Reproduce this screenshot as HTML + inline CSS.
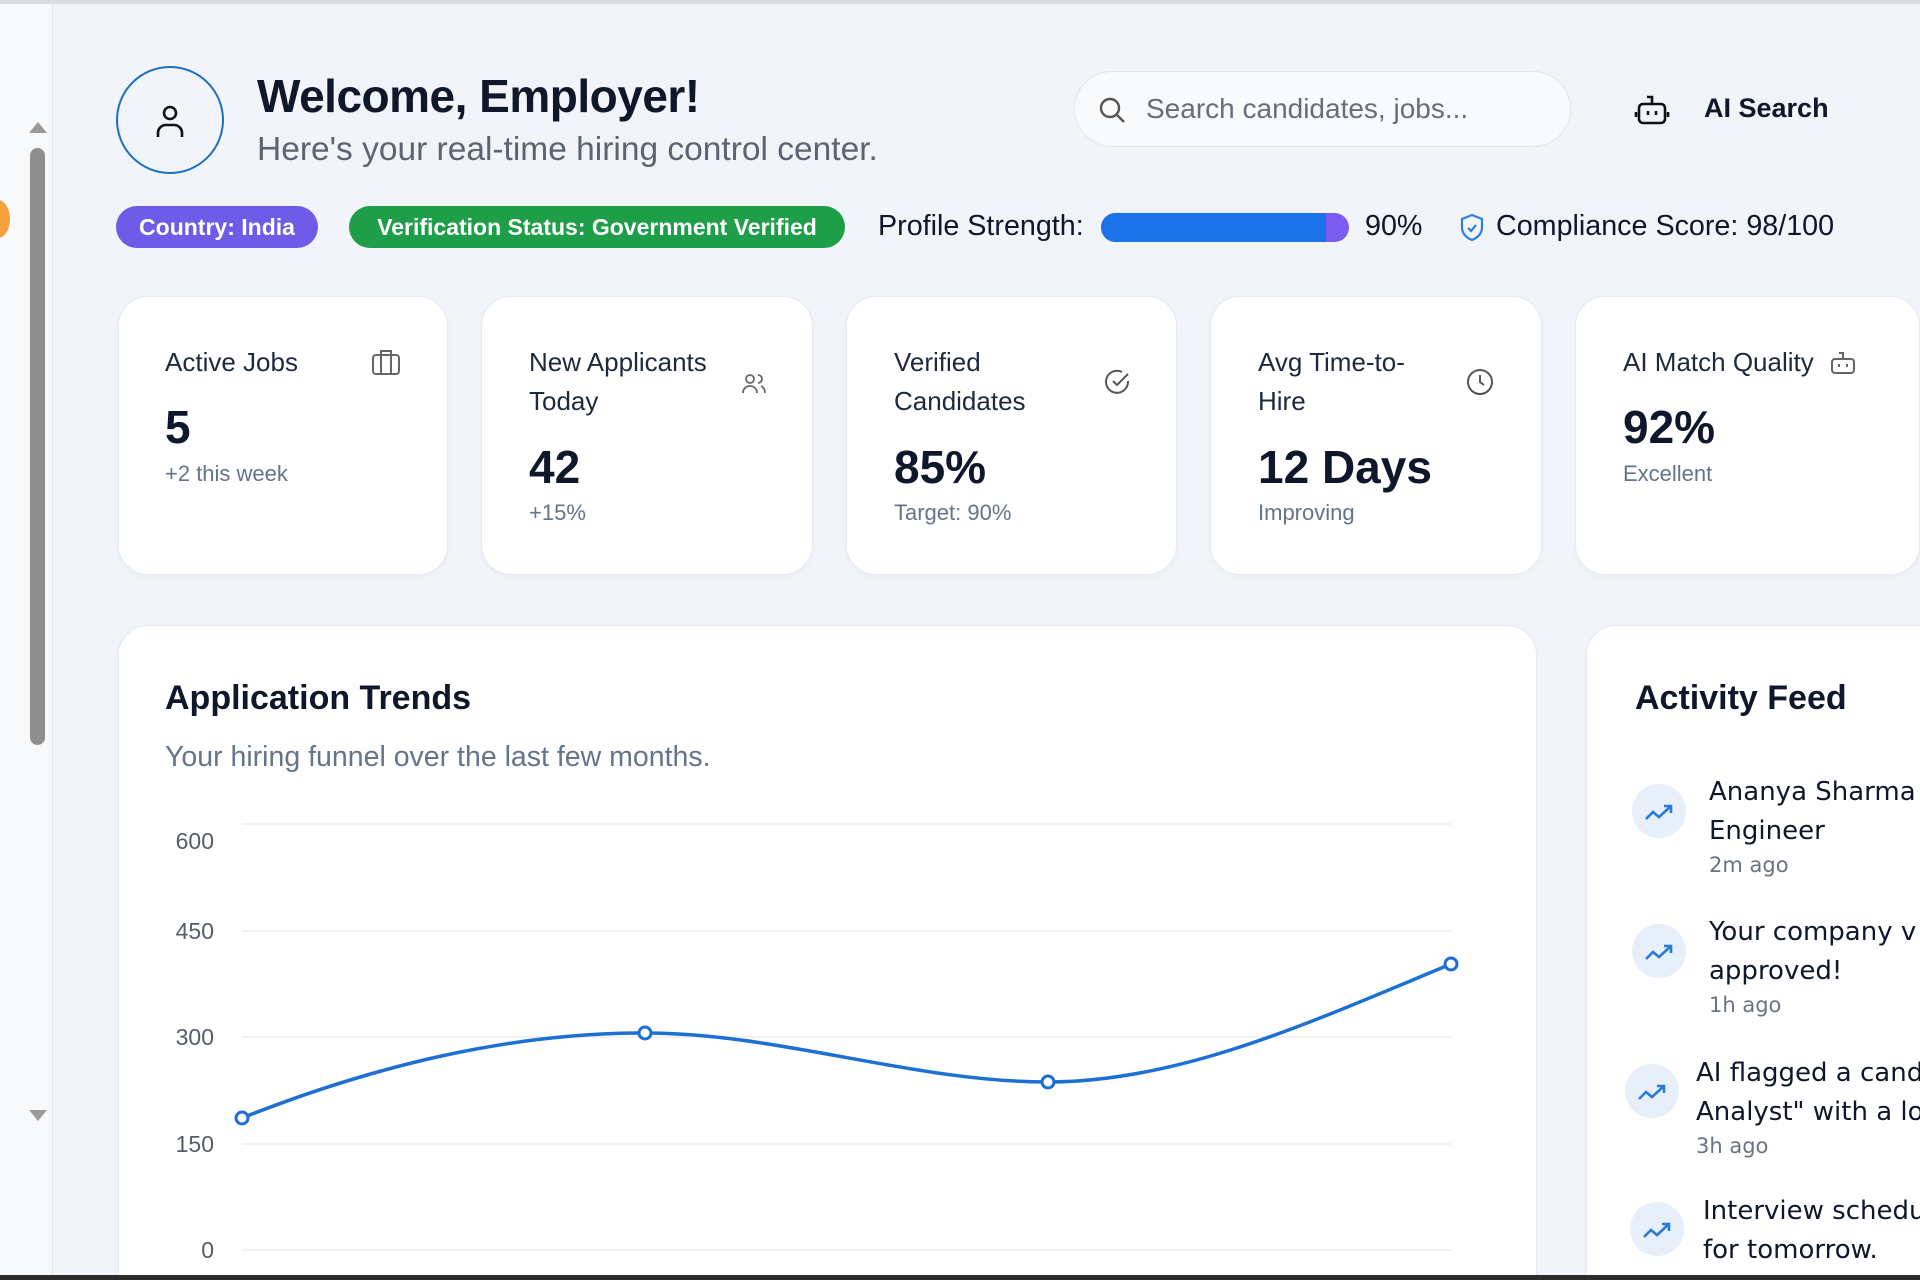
<!DOCTYPE html>
<html style="overflow:hidden;width:1920px;height:1280px"><head><meta charset="utf-8"><style>
*{margin:0;padding:0;box-sizing:border-box}
body{width:1920px;height:1280px;overflow:hidden;background:#f1f4f8;font-family:"Liberation Sans",sans-serif;color:#0f172a;position:relative}
.a{position:absolute;white-space:nowrap}
.card{position:absolute;background:#fff;border:1px solid #e6eaf0;border-radius:30px;box-shadow:0 2px 6px rgba(0,0,0,.03)}
.ct{font-size:26px;color:#1e293b;line-height:39px}
.cv{font-size:46px;font-weight:bold;color:#0f172a}
.cs{font-size:22px;color:#64748b}
.badge{position:absolute;height:42px;border-radius:21px;color:#fff;font-weight:bold;font-size:23px;line-height:42px;text-align:center}
.feed{font-family:"DejaVu Sans",sans-serif;font-size:26px;color:#0f172a;line-height:39px}
.tm{font-family:"DejaVu Sans",sans-serif;font-size:21px;color:#6b7280}
.ic{position:absolute;width:54px;height:54px;border-radius:50%;background:#e6effa}
</style></head><body>
<div class="a" style="left:0;top:0;width:1920px;height:4px;background:#d9dce1"></div>
<div class="a" style="left:0;top:4px;width:53px;height:1272px;background:#f8f9fb;border-right:1px solid #e5e7eb"></div>
<div class="a" style="left:-14px;top:200px;width:24px;height:38px;border-radius:50%;background:#f6a23c"></div>
<div class="a" style="left:29px;top:122px;width:0;height:0;border-left:9px solid transparent;border-right:9px solid transparent;border-bottom:11px solid #9a9a9a"></div>
<div class="a" style="left:30px;top:148px;width:15px;height:597px;border-radius:8px;background:#8e8e8e"></div>
<div class="a" style="left:29px;top:1110px;width:0;height:0;border-left:9px solid transparent;border-right:9px solid transparent;border-top:11px solid #9a9a9a"></div>

<div class="a" style="left:116px;top:66px;width:108px;height:108px;border-radius:50%;border:2px solid #1d6fc4"></div>
<svg class="a" style="left:150px;top:100px" width="40" height="40" viewBox="0 0 40 40" fill="none" stroke="#111" stroke-width="2.6"><circle cx="20" cy="13" r="6"/><path d="M8 37v-4a8 8 0 0 1 8-8h8a8 8 0 0 1 8 8v4"/></svg>
<div class="a" style="left:257px;top:69px;font-size:46px;font-weight:bold;letter-spacing:-0.5px">Welcome, Employer!</div>
<div class="a" style="left:257px;top:131px;font-size:33.5px;color:#5b6472">Here's your real-time hiring control center.</div>

<div class="a" style="left:1074px;top:71px;width:497px;height:76px;border-radius:38px;background:#f8fafc;border:1px solid #e3e7ed"></div>
<svg class="a" style="left:1097px;top:95px" width="30" height="30" viewBox="0 0 30 30" fill="none" stroke="#555" stroke-width="2.4"><circle cx="13" cy="13" r="9"/><path d="M20 20l7 7"/></svg>
<div class="a" style="left:1146px;top:93px;font-size:28px;color:#666e7a">Search candidates, jobs...</div>
<svg class="a" style="left:1634px;top:92px" width="36" height="36" viewBox="0 0 36 36" fill="none" stroke="#111" stroke-width="2.6"><rect x="5" y="12" width="26" height="19" rx="4"/><path d="M18 12V5h-5M2 20v5M34 20v5M14 19v4M22 19v4"/></svg>
<div class="a" style="left:1704px;top:93px;font-size:27px;font-weight:bold">AI Search</div>

<div class="badge" style="left:116px;top:206px;width:202px;background:#6c5ce7">Country: India</div>
<div class="badge" style="left:349px;top:206px;width:496px;background:#1e9e48">Verification Status: Government Verified</div>
<div class="a" style="left:878px;top:210px;font-size:28.7px">Profile Strength:</div>
<div class="a" style="left:1101px;top:213px;width:248px;height:29px;border-radius:15px;background:#7a5cf0;overflow:hidden"><div style="width:225px;height:29px;background:#1a73e8"></div></div>
<div class="a" style="left:1365px;top:210px;font-size:28.7px">90%</div>
<svg class="a" style="left:1459px;top:213px" width="26" height="30" viewBox="0 0 26 30" fill="none" stroke="#2f7fe0" stroke-width="2.2"><path d="M13 2l10 4v8c0 7-5 11-10 13C8 25 3 21 3 14V6z"/><path d="M9 15l3 3 5-6"/></svg>
<div class="a" style="left:1496px;top:210px;font-size:28.7px">Compliance Score: 98/100</div>

<div class="card" style="left:118px;top:296px;width:330px;height:279px"></div>
<div class="card" style="left:481px;top:296px;width:332px;height:279px"></div>
<div class="card" style="left:846px;top:296px;width:331px;height:279px"></div>
<div class="card" style="left:1210px;top:296px;width:332px;height:279px"></div>
<div class="card" style="left:1575px;top:296px;width:345px;height:279px"></div>

<div class="a ct" style="left:165px;top:343px">Active Jobs</div>
<svg class="a" style="left:371px;top:348px" width="30" height="28" viewBox="0 0 30 28" fill="none" stroke="#666" stroke-width="2"><rect x="2" y="7" width="26" height="19" rx="3"/><path d="M10 7V3h10v4M10 7v19M20 7v19"/></svg>
<div class="a cv" style="left:165px;top:400px">5</div>
<div class="a cs" style="left:165px;top:461px">+2 this week</div>

<div class="a ct" style="left:529px;top:343px">New Applicants<br>Today</div>
<svg class="a" style="left:741px;top:372px" width="26" height="24" viewBox="0 0 26 24" fill="none" stroke="#666" stroke-width="1.8"><circle cx="9" cy="7" r="4"/><path d="M2 21c0-4 3-7 7-7s7 3 7 7M17 3a4 4 0 0 1 0 8M20 14c2 1 4 3 4 7"/></svg>
<div class="a cv" style="left:529px;top:440px">42</div>
<div class="a cs" style="left:529px;top:500px">+15%</div>

<div class="a ct" style="left:894px;top:343px">Verified<br>Candidates</div>
<svg class="a" style="left:1104px;top:368px" width="28" height="28" viewBox="0 0 28 28" fill="none" stroke="#555" stroke-width="2"><path d="M24 13v1a11 11 0 1 1-6-10"/><path d="M9 13l4 4 11-11"/></svg>
<div class="a cv" style="left:894px;top:440px">85%</div>
<div class="a cs" style="left:894px;top:500px">Target: 90%</div>

<div class="a ct" style="left:1258px;top:343px">Avg Time-to-<br>Hire</div>
<svg class="a" style="left:1466px;top:368px" width="28" height="28" viewBox="0 0 28 28" fill="none" stroke="#555" stroke-width="2"><circle cx="14" cy="14" r="12"/><path d="M14 7v7l4 3"/></svg>
<div class="a cv" style="left:1258px;top:440px">12 Days</div>
<div class="a cs" style="left:1258px;top:500px">Improving</div>

<div class="a ct" style="left:1623px;top:343px">AI Match Quality</div>
<svg class="a" style="left:1829px;top:350px" width="28" height="26" viewBox="0 0 28 26" fill="none" stroke="#666" stroke-width="2"><rect x="3" y="9" width="22" height="14" rx="3"/><path d="M14 9V3h-4M10 14v3M18 14v3"/></svg>
<div class="a cv" style="left:1623px;top:400px">92%</div>
<div class="a cs" style="left:1623px;top:461px">Excellent</div>

<div class="card" style="left:118px;top:625px;width:1419px;height:700px"></div>
<div class="card" style="left:1586px;top:625px;width:400px;height:700px"></div>

<div class="a" style="left:165px;top:679px;font-size:34px;font-weight:bold;color:#0f172a">Application Trends</div>
<div class="a" style="left:165px;top:741px;font-size:28.5px;color:#64748b">Your hiring funnel over the last few months.</div>

<svg class="a" style="left:0;top:0" width="1920" height="1280">
<g stroke="#eceef2" stroke-width="1.5"><line x1="242" y1="824" x2="1451" y2="824"/><line x1="242" y1="931" x2="1451" y2="931"/><line x1="242" y1="1037" x2="1451" y2="1037"/><line x1="242" y1="1144" x2="1451" y2="1144"/><line x1="242" y1="1250" x2="1451" y2="1250"/></g>
<g font-family="Liberation Sans, sans-serif" font-size="23" fill="#555d68" text-anchor="end"><text x="214" y="849">600</text><text x="214" y="939">450</text><text x="214" y="1045">300</text><text x="214" y="1152">150</text><text x="214" y="1258">0</text></g>
<path d="M242 1118 C376 1065 510 1033 645 1033 C779 1033 913 1082 1048 1082 C1182 1082 1316 1020 1451 964" fill="none" stroke="#1c6fd3" stroke-width="3.5"/>
<g fill="#fff" stroke="#1c6fd3" stroke-width="3"><circle cx="242" cy="1118" r="6"/><circle cx="645" cy="1033" r="6"/><circle cx="1048" cy="1082" r="6"/><circle cx="1451" cy="964" r="6"/></g>
</svg>

<div class="a" style="left:1635px;top:679px;font-size:34px;font-weight:bold;color:#0f172a">Activity Feed</div>
<div class="ic" style="left:1632px;top:784px"></div>
<div class="ic" style="left:1632px;top:924px"></div>
<div class="ic" style="left:1625px;top:1064px"></div>
<div class="ic" style="left:1630px;top:1202px"></div>
<svg class="a" style="left:0;top:0" width="1920" height="1280" fill="none" stroke="#2a7bd6" stroke-width="2.6">
<path d="M1646 819l7-7 6 5 12-11M1664 806h7v7"/>
<path d="M1646 959l7-7 6 5 12-11M1664 946h7v7"/>
<path d="M1639 1099l7-7 6 5 12-11M1657 1086h7v7"/>
<path d="M1644 1237l7-7 6 5 12-11M1662 1224h7v7"/>
</svg>
<div class="a feed" style="left:1709px;top:773px">Ananya Sharma<br>Engineer</div>
<div class="a tm" style="left:1709px;top:853px">2m ago</div>
<div class="a feed" style="left:1709px;top:913px">Your company v<br>approved!</div>
<div class="a tm" style="left:1709px;top:993px">1h ago</div>
<div class="a feed" style="left:1696px;top:1054px">AI flagged a cand<br>Analyst" with a lo</div>
<div class="a tm" style="left:1696px;top:1134px">3h ago</div>
<div class="a feed" style="left:1703px;top:1192px">Interview schedu<br>for tomorrow.</div>
<div class="a" style="left:0;top:1275px;width:1920px;height:5px;background:#2b2b2b"></div>
</body></html>
